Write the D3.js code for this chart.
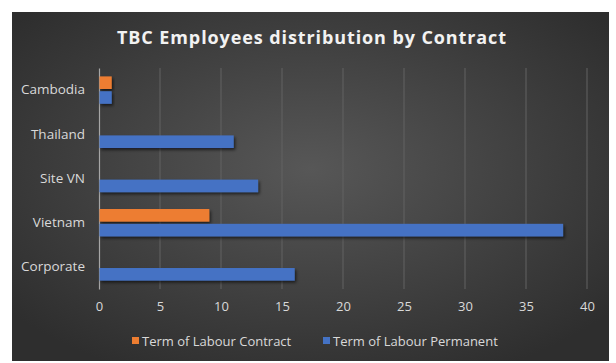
<!DOCTYPE html>
<html>
<head>
<meta charset="utf-8">
<script src="https://cdn.jsdelivr.net/npm/d3@7"></script>
<style>
  body { margin: 0; background: #fff; }
  text { font-family: "Open Sans", "DejaVu Sans", sans-serif; }
</style>
</head>
<body>
<div id="chart"></div>
<script>
// dados do gráfico
const categories = ["Cambodia", "Thailand", "Site VN", "Vietnam", "Corporate"];
const series = ["Term of Labour Contract", "Term of Labour Permanent"];
const contractValues = [1, 0, 0, 9, 0];
const permanentValues = [1, 11, 13, 38, 16];
const xTicks = [0, 5, 10, 15, 20, 25, 30, 35, 40];
const colors = ["#ED7D31", "#4472C4"];

const width = 616, height = 363;

const svg = d3.select("#chart").append("svg")
  .attr("width", width)
  .attr("height", height);

const defs = svg.append("defs");
const grad = defs.append("radialGradient")
  .attr("id", "bg")
  .attr("cx", "50%").attr("cy", "45%").attr("r", "65%");
grad.append("stop").attr("offset", "0%").attr("stop-color", "#575757");
grad.append("stop").attr("offset", "100%").attr("stop-color", "#2e2e2e");

const shadow = defs.append("filter").attr("id", "shadow")
  .attr("x", "-10%").attr("y", "-30%").attr("width", "130%").attr("height", "190%");
shadow.append("feDropShadow")
  .attr("dx", 1.5).attr("dy", 2).attr("stdDeviation", 1.5)
  .attr("flood-color", "#000").attr("flood-opacity", 0.6);

// fundo do gráfico
svg.append("rect")
  .attr("x", 12).attr("y", 12)
  .attr("width", 597).attr("height", 349)
  .attr("fill", "url(#bg)");

// título
svg.append("text")
  .attr("x", 312).attr("y", 44)
  .attr("text-anchor", "middle")
  .attr("fill", "#f2f2f2")
  .attr("font-size", 18)
  .attr("font-weight", "bold")
  .attr("letter-spacing", 0.9)
  .text("TBC Employees distribution by Contract");

const x = d3.scaleLinear().domain([0, 40]).range([99, 587]);
const y = d3.scaleBand().domain(categories).range([68, 289]).paddingInner(0.38).paddingOuter(0.19);
const ys = d3.scaleBand().domain(series).range([0, y.bandwidth()]).paddingInner(0.15);

// linhas de grade
svg.append("g")
  .selectAll("line")
  .data(xTicks.slice(1))
  .join("line")
  .attr("x1", d => x(d)).attr("x2", d => x(d))
  .attr("y1", 68).attr("y2", 289)
  .attr("stroke", "#626262")
  .attr("stroke-width", 1);

// eixo x (só rótulos)
const xAxis = svg.append("g")
  .attr("transform", "translate(0,289)")
  .call(d3.axisBottom(x).tickValues(xTicks).tickSize(0).tickPadding(13));
xAxis.select(".domain").remove();
xAxis.selectAll("text").attr("fill", "#d9d9d9").attr("font-size", 13);

// eixo y
const yAxis = svg.append("g")
  .attr("transform", "translate(99,0)")
  .call(d3.axisLeft(y).tickSize(0).tickPadding(14));
yAxis.select(".domain").attr("stroke", "#a6a6a6").attr("stroke-width", 1.2);
yAxis.selectAll("text").attr("fill", "#d9d9d9").attr("font-size", 13.5);

// barras
const rows = categories.map((c, i) => ({ cat: c, vals: [contractValues[i], permanentValues[i]] }));
svg.append("g")
  .selectAll("g")
  .data(rows)
  .join("g")
  .attr("transform", d => `translate(0,${y(d.cat)})`)
  .selectAll("rect")
  .data(d => d.vals.map((v, j) => ({ s: series[j], v, c: colors[j] })).filter(d => d.v > 0))
  .join("rect")
  .attr("x", x(0) + 0.5)
  .attr("y", d => ys(d.s))
  .attr("width", d => x(d.v) - x(0))
  .attr("height", ys.bandwidth())
  .attr("fill", d => d.c)
  .attr("filter", "url(#shadow)");

// legenda
const legend = svg.append("g");
const legendX = [132, 323];
series.forEach((s, i) => {
  legend.append("rect")
    .attr("x", legendX[i]).attr("y", 337)
    .attr("width", 7).attr("height", 7)
    .attr("fill", colors[i]);
  legend.append("text")
    .attr("x", legendX[i] + 10).attr("y", 345.5)
    .attr("fill", "#d9d9d9")
    .attr("font-size", 13)
    .text(s);
});
</script>
</body>
</html>
